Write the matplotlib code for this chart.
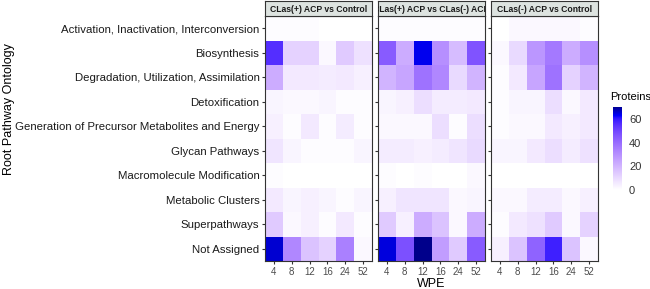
import matplotlib.pyplot as plt
import numpy as np
from matplotlib.colors import ListedColormap, to_rgb

plt.rcParams['font.family'] = ['Liberation Sans', 'DejaVu Sans']

pathways = ["Activation, Inactivation, Interconversion", "Biosynthesis",
            "Degradation, Utilization, Assimilation", "Detoxification",
            "Generation of Precursor Metabolites and Energy", "Glycan Pathways",
            "Macromolecule Modification", "Metabolic Clusters", "Superpathways",
            "Not Assigned"]
wpe = ["4", "8", "12", "16", "24", "52"]
comparisons = ["CLas(+) ACP vs Control", "CLas(+) ACP vs CLas(-) ACP",
               "CLas(-) ACP vs Control"]

# protein counts, rows = pathways, cols = WPE
plus_vs_control = [
    [1, 1, 1, 0, 0, 0],
    [55, 12, 12, 2, 14, 8],
    [22, 6, 6, 5, 6, 4],
    [3, 2, 2, 3, 1, 1],
    [4, 1, 6, 1, 5, 1],
    [7, 3, 1, 1, 1, 3],
    [1, 0, 0, 0, 0, 0],
    [6, 3, 4, 3, 1, 3],
    [14, 2, 4, 1, 6, 1],
    [65, 32, 16, 12, 34, 2],
]
plus_vs_minus = [
    [1, 1, 1, 1, 1, 1],
    [44, 22, 63, 30, 18, 46],
    [20, 24, 38, 32, 10, 20],
    [3, 4, 9, 5, 5, 6],
    [2, 2, 2, 9, 1, 9],
    [5, 5, 4, 5, 7, 10],
    [1, 0, 1, 0, 0, 2],
    [4, 7, 7, 7, 2, 3],
    [14, 4, 22, 16, 2, 22],
    [64, 47, 70, 26, 14, 44],
]
minus_vs_control = [
    [0, 2, 2, 2, 2, 1],
    [2, 10, 28, 36, 22, 30],
    [1, 6, 24, 38, 12, 20],
    [1, 3, 3, 9, 2, 6],
    [1, 2, 2, 6, 4, 6],
    [3, 3, 6, 9, 5, 8],
    [0, 0, 0, 0, 0, 0],
    [2, 2, 5, 5, 2, 4],
    [1, 6, 8, 14, 2, 12],
    [4, 16, 42, 58, 16, 2],
]
panels = [plus_vs_control, plus_vs_minus, minus_vs_control]
vmax = 70


# gradient interpolated in Lab space, like ggplot
def to_lab(c):
    rgb = np.array(to_rgb(c))
    lin = np.where(rgb > 0.04045, ((rgb + 0.055) / 1.055) ** 2.4, rgb / 12.92)
    M = np.array([[0.4124, 0.3576, 0.1805], [0.2126, 0.7152, 0.0722],
                  [0.0193, 0.1192, 0.9505]])
    xyz = M @ lin / np.array([0.95047, 1.0, 1.08883])
    f = np.where(xyz > 0.008856, np.cbrt(xyz), 7.787 * xyz + 16 / 116)
    return np.array([116 * f[1] - 16, 500 * (f[0] - f[1]), 200 * (f[1] - f[2])])


def from_lab(lab):
    L, a, b = lab
    fy = (L + 16) / 116
    fx = fy + a / 500
    fz = fy - b / 200
    f = np.array([fx, fy, fz])
    xyz = np.where(f ** 3 > 0.008856, f ** 3, (f - 16 / 116) / 7.787)
    xyz = xyz * np.array([0.95047, 1.0, 1.08883])
    Mi = np.array([[3.2406, -1.5372, -0.4986], [-0.9689, 1.8758, 0.0415],
                   [0.0557, -0.2040, 1.0570]])
    lin = Mi @ xyz
    rgb = np.where(lin > 0.0031308, 1.055 * np.clip(lin, 0, None) ** (1 / 2.4) - 0.055,
                   12.92 * lin)
    return np.clip(rgb, 0, 1)


stops = [0, 62 / vmax, 1]
stop_cols = [to_lab("#ffffff"), to_lab("#0000ff"), to_lab("#00008b")]
cols = []
for t in np.linspace(0, 1, 256):
    i = 0 if t <= stops[1] else 1
    u = (t - stops[i]) / (stops[i + 1] - stops[i])
    cols.append(from_lab(stop_cols[i] * (1 - u) + stop_cols[i + 1] * u))
cmap = ListedColormap(cols)

fig = plt.figure(figsize=(6.5, 2.89), dpi=100)
W, H = 650, 289
left, pw, gap = 265, 107, 6
ptop, pbot, strip = 16, 261, 15

for k, (name, data) in enumerate(zip(comparisons, panels)):
    x0 = left + k * (pw + gap)
    ax = fig.add_axes([x0 / W, (H - pbot) / H, pw / W, (pbot - ptop) / H])
    ax.pcolormesh(np.array(data), cmap=cmap, vmin=0, vmax=vmax)
    ax.set_xlim(0, 6)
    ax.set_ylim(10, 0)
    ax.set_xticks(np.arange(6) + 0.5)
    ax.set_xticklabels(wpe, fontsize=7, color="#4d4d4d")
    ax.set_yticks(np.arange(10) + 0.5)
    if k == 0:
        ax.set_yticklabels(pathways, fontsize=8.2, color="#1a1a1a")
    else:
        ax.set_yticklabels([])
        ax.tick_params(axis="y", length=0)
    ax.tick_params(length=2.5, width=0.8, color="#333333", pad=1.5)
    for s in ax.spines.values():
        s.set_color("#333333")
        s.set_linewidth(0.8)
    # facet strip
    sax = fig.add_axes([x0 / W, (H - ptop) / H, pw / W, strip / H])
    sax.set_facecolor("#dde3e0")
    sax.set_xticks([])
    sax.set_yticks([])
    for s in sax.spines.values():
        s.set_color("#333333")
        s.set_linewidth(0.8)
    sax.text(0.5, 0.45, name, ha="center", va="center", fontsize=6.2,
             fontweight="bold", color="#1a1a1a", transform=sax.transAxes,
             clip_on=True)
    if k == 1:
        ax.set_xlabel("WPE", fontsize=9, labelpad=1)

fig.text(9 / W, (H - 109) / H, "Root Pathway Ontology",
         rotation=90, ha="center", va="center", fontsize=9)

cax = fig.add_axes([613 / W, (H - 190) / H, 9 / W, 83 / H])
grad = np.linspace(0, vmax, 200).reshape(-1, 1)
cax.imshow(grad, aspect="auto", cmap=cmap, origin="lower",
           extent=[0, 1, 0, vmax], vmin=0, vmax=vmax)
cax.set_xticks([])
cax.yaxis.tick_right()
cax.set_yticks([0, 20, 40, 60])
cax.tick_params(axis="y", length=2, color="white", labelsize=8,
                labelcolor="#333333", pad=3)
for s in cax.spines.values():
    s.set_visible(False)
fig.text(610 / W, (H - 97) / H, "Proteins", fontsize=8, va="center")

fig.savefig("out.png", dpi=100)
